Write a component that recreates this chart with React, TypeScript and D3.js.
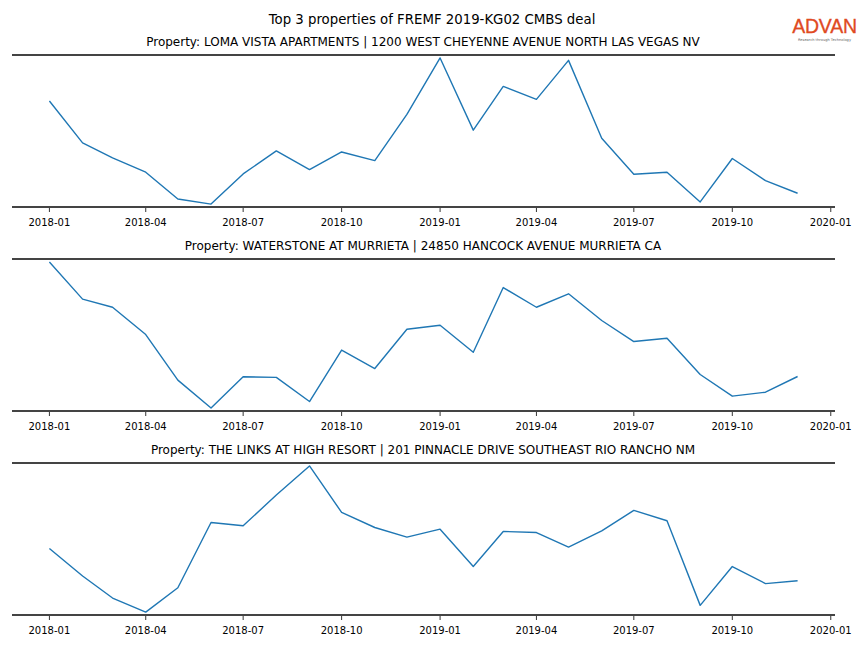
import React from "react";
import * as d3 from "d3";

const months: string[] = [
  "2018-01","2018-02","2018-03","2018-04","2018-05","2018-06","2018-07","2018-08","2018-09","2018-10","2018-11","2018-12",
  "2019-01","2019-02","2019-03","2019-04","2019-05","2019-06","2019-07","2019-08","2019-09","2019-10","2019-11","2019-12",
];

const seriesLoma: number[] = [69.1,41.7,31.8,22.4,4.8,1.5,21.3,36.4,24.1,35.7,30.0,60.3,97.4,50.0,78.7,70.2,95.8,44.7,21.1,22.4,2.9,31.4,16.9,8.6];
const seriesWaterstone: number[] = [97.8,73.4,68.1,50.2,20.3,2.0,22.5,22.1,6.3,40.0,27.9,53.7,56.3,38.6,81.0,68.1,76.9,59.4,45.6,47.8,24.0,9.8,12.4,22.7];
const seriesLinks: number[] = [43.2,25.2,10.7,1.5,17.5,60.3,58.1,78.3,97.4,66.9,57.0,50.7,55.9,31.4,54.4,53.7,44.1,54.8,68.2,61.4,5.9,31.4,20.2,22.1];

const panelTitles: string[] = [
  "Property: LOMA VISTA APARTMENTS | 1200 WEST CHEYENNE AVENUE NORTH LAS VEGAS NV",
  "Property: WATERSTONE AT MURRIETA | 24850 HANCOCK AVENUE MURRIETA CA",
  "Property: THE LINKS AT HIGH RESORT | 201 PINNACLE DRIVE SOUTHEAST RIO RANCHO NM",
];
const tickLabels: string[] = ["2018-01","2018-04","2018-07","2018-10","2019-01","2019-04","2019-07","2019-10","2020-01"];
const mainTitle = "Top 3 properties of FREMF 2019-KG02 CMBS deal";

const W = 864, H = 648;
const left = 12, right = 835;
const panelTops = [55, 259, 463];
const panelH = 152;
const font = "DejaVu Sans, sans-serif";

const parse = d3.timeParse("%Y-%m");

export default function App() {
  const dates = months.map((m) => parse(m) as Date);
  const t0 = dates[0].getTime(), t1 = dates[dates.length - 1].getTime();
  const pad = (t1 - t0) * 0.05;
  const x = d3.scaleTime().domain([new Date(t0 - pad), new Date(t1 + pad)]).range([left, right]);
  const all = [seriesLoma, seriesWaterstone, seriesLinks];
  const ticks = tickLabels.map((t) => parse(t) as Date);

  return (
    <svg width={W} height={H} style={{ position: "absolute", left: 0, top: 0, background: "#fff" }}>
      <rect width={W} height={H} fill="#fff" />
      <text x={432} y={24} textAnchor="middle" fontFamily={font} fontSize={13.3} fill="#000">{mainTitle}</text>
      <g>
        <text x={824.5} y={33} textAnchor="middle" fontFamily="Liberation Sans, Arial, sans-serif" fontSize={19.5} fontWeight={500} fill="#e04a22" stroke="#e04a22" strokeWidth={0.3} letterSpacing={-0.2}>ADVAN</text>
        <text x={824.5} y={40.5} textAnchor="middle" fontFamily={font} fontSize={3.6} fill="#666">Research through Technology</text>
      </g>
      {all.map((vals, i) => {
        const top = panelTops[i];
        const bottom = top + panelH;
        const [mn, mx] = d3.extent(vals) as [number, number];
        const p = (mx - mn) * 0.02;
        const y = d3.scaleLinear().domain([mn - p, mx + p]).range([bottom, top]);
        const line = d3.line<number>().x((_, j) => x(dates[j])).y((v) => y(v));
        return (
          <g key={i}>
            <text x={423} y={top - 9} textAnchor="middle" fontFamily={font} fontSize={12} fill="#000">{panelTitles[i]}</text>
            <path d={line(vals) || ""} fill="none" stroke="#1f77b4" strokeWidth={1.4} strokeLinejoin="round" />
            <line x1={left} x2={right} y1={top} y2={top} stroke="#444" strokeWidth={2} />
            <line x1={left} x2={right} y1={bottom} y2={bottom} stroke="#444" strokeWidth={2} />
            {ticks.map((t, k) => (
              <g key={k}>
                <line x1={x(t)} x2={x(t)} y1={bottom + 1} y2={bottom + 5} stroke="#000" strokeWidth={0.8} />
                <text x={x(t)} y={bottom + 19} textAnchor="middle" fontFamily={font} fontSize={10} fill="#000">{tickLabels[k]}</text>
              </g>
            ))}
          </g>
        );
      })}
    </svg>
  );
}
